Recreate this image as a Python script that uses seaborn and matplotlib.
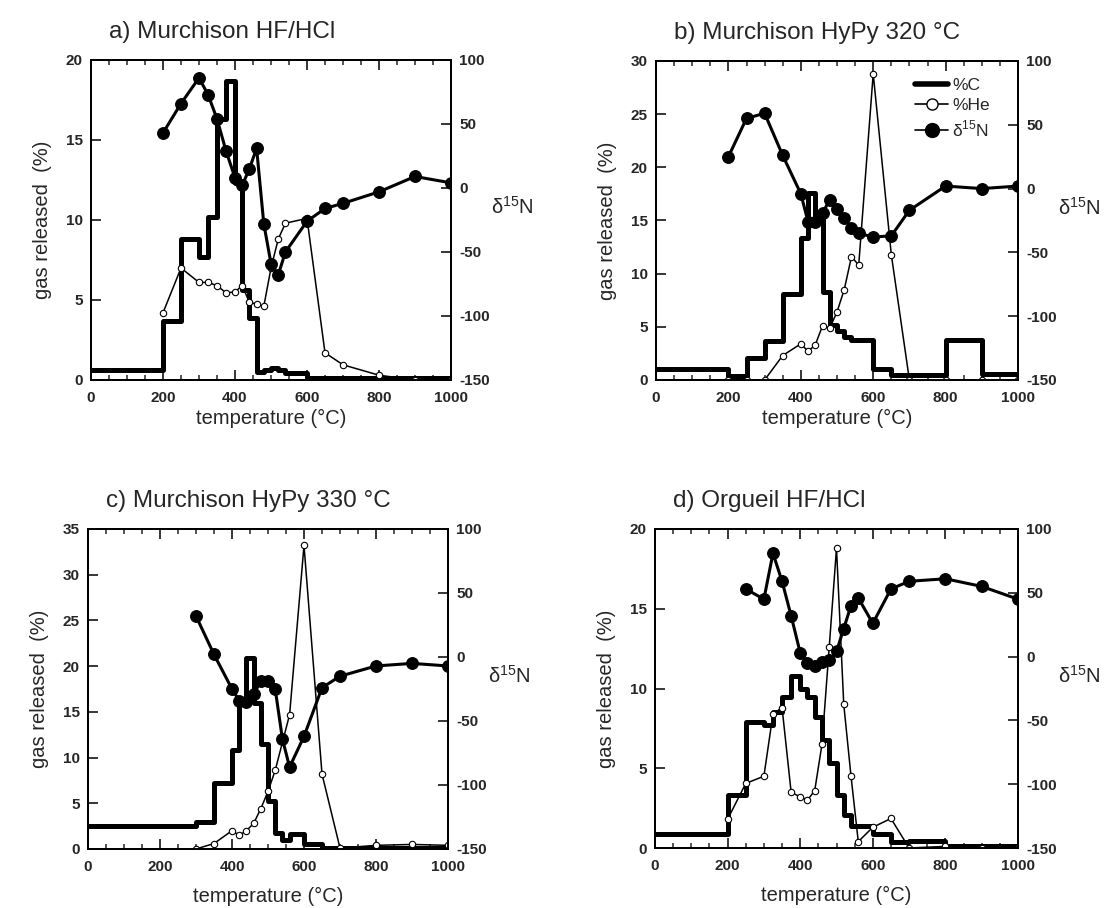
import numpy as np
import pandas as pd
import matplotlib
matplotlib.use("Agg")
import matplotlib.pyplot as plt
from matplotlib.lines import Line2D
import seaborn as sns

sns.set_theme(style="white")
plt.rcParams['font.family'] = ['Liberation Sans', 'DejaVu Sans']
plt.rcParams['mathtext.fontset'] = 'custom'
plt.rcParams['mathtext.rm'] = 'Liberation Sans'
plt.rcParams['axes.unicode_minus'] = False

# ---------------- data ----------------
titles = ["a) Murchison HF/HCl", "b) Murchison HyPy 320 °C",
          "c) Murchison HyPy 330 °C", "d) Orgueil HF/HCl"]
left_max = [20, 30, 35, 20]

# panel a
a_c_edges = [0, 200, 250, 300, 325, 350, 375, 400, 420, 440, 460, 480, 500, 520, 540, 600, 1000]
a_c_vals = [0.6, 3.7, 8.8, 7.7, 10.2, 16.3, 18.7, 12.3, 5.6, 3.9, 0.5, 0.6, 0.75, 0.6, 0.45, 0.15]
a_he_t = [200, 250, 300, 325, 350, 375, 400, 420, 440, 460, 480, 500, 520, 540, 600, 650, 700, 800, 900, 1000]
a_he_v = [4.2, 7.0, 6.1, 6.1, 5.9, 5.45, 5.5, 5.9, 4.85, 4.75, 4.6, 7.0, 8.8, 9.8, 10.1, 1.7, 0.95, 0.3, 0.0, 0.0]
a_n_t = [200, 250, 300, 325, 350, 375, 400, 420, 440, 460, 480, 500, 520, 540, 600, 650, 700, 800, 900, 1000]
a_n_v = [43, 66, 86, 73, 54, 29, 8, 2, 15, 31, -28, -59, -68, -50, -26, -16, -12, -3, 9, 4]

# panel b
b_c_edges = [0, 200, 250, 300, 350, 400, 420, 440, 460, 480, 500, 520, 540, 600, 650, 700, 800, 900, 1000]
b_c_vals = [1.0, 0.4, 2.1, 3.7, 8.1, 13.4, 17.6, 15.4, 8.3, 5.2, 4.6, 4.0, 3.8, 1.0, 0.5, 0.5, 3.8, 0.6]
b_he_t = [200, 250, 300, 350, 400, 420, 440, 460, 480, 500, 520, 540, 560, 600, 650, 700, 800, 900, 1000]
b_he_v = [0, 0, 0, 2.3, 3.4, 2.7, 3.3, 5.1, 4.9, 6.4, 8.5, 11.6, 10.8, 28.8, 11.8, 0, 0, 0, 0]
b_n_t = [200, 250, 300, 350, 400, 420, 440, 460, 480, 500, 520, 540, 560, 600, 650, 700, 800, 900, 1000]
b_n_v = [25, 55, 59, 26, -4, -26, -26, -19, -9, -16, -23, -31, -35, -38, -37, -17, 2, 0, 2]

# panel c
c_c_edges = [0, 300, 350, 400, 420, 440, 460, 480, 500, 520, 540, 560, 600, 650, 1000]
c_c_vals = [2.5, 3.0, 7.2, 10.8, 16.2, 20.9, 16.0, 11.5, 5.2, 1.8, 1.0, 1.6, 0.6, 0.15]
c_he_t = [300, 350, 400, 420, 440, 460, 480, 500, 520, 560, 600, 650, 700, 800, 900, 1000]
c_he_v = [0, 0.6, 2.0, 1.5, 2.0, 2.8, 4.4, 6.3, 8.6, 14.7, 33.2, 8.2, 0.1, 0.4, 0.5, 0.4]
c_n_t = [300, 350, 400, 420, 440, 460, 480, 500, 520, 540, 560, 600, 650, 700, 800, 900, 1000]
c_n_v = [32, 2, -25, -34, -35, -29, -19, -19, -25, -64, -86, -62, -24, -15, -7, -5, -7]

# panel d
d_c_edges = [0, 200, 250, 300, 325, 350, 375, 400, 420, 440, 460, 480, 500, 520, 540, 560, 600, 650, 700, 800, 1000]
d_c_vals = [0.85, 3.3, 7.9, 7.7, 8.55, 9.45, 10.8, 10.0, 9.45, 8.2, 6.8, 5.3, 3.3, 2.1, 1.4, 1.4, 0.85, 0.4, 0.45, 0.1]
d_he_t = [200, 250, 300, 325, 350, 375, 400, 420, 440, 460, 480, 500, 520, 540, 560, 600, 650, 700, 800, 900, 1000]
d_he_v = [1.8, 4.05, 4.5, 8.4, 8.8, 3.5, 3.2, 3.0, 3.6, 6.5, 12.6, 18.8, 9.0, 4.5, 0.4, 1.3, 1.85, 0.0, 0.1, 0.0, 0.0]
d_n_t = [250, 300, 325, 350, 375, 400, 420, 440, 460, 480, 500, 520, 540, 560, 600, 650, 700, 800, 900, 1000]
d_n_v = [53, 45, 81, 59, 32, 3, -5, -7, -4, -3, 4, 22, 40, 46, 26, 53, 59, 61, 55, 45]

panels = [
    (a_c_edges, a_c_vals, a_he_t, a_he_v, a_n_t, a_n_v),
    (b_c_edges, b_c_vals, b_he_t, b_he_v, b_n_t, b_n_v),
    (c_c_edges, c_c_vals, c_he_t, c_he_v, c_n_t, c_n_v),
    (d_c_edges, d_c_vals, d_he_t, d_he_v, d_n_t, d_n_v),
]

# axes rectangles in figure fractions (left, bottom, width, height)
W, H = 1106, 908
rects = [
    (91 / W, 1 - 380 / H, 360 / W, 320 / H),
    (656 / W, 1 - 380 / H, 362 / W, 319 / H),
    (88 / W, 1 - 849 / H, 360 / W, 320 / H),
    (655 / W, 1 - 848 / H, 363 / W, 319 / H),
]
xlabel_pad = [3, 3, 9, 9]

fig = plt.figure(figsize=(W / 100, H / 100), dpi=100)
fig.patch.set_facecolor("white")

for i, (rect, data) in enumerate(zip(rects, panels)):
    c_edges, c_vals, he_t, he_v, n_t, n_v = data
    ax = fig.add_axes(rect)
    ax2 = ax.twinx()

    df_c = pd.DataFrame({"T": c_edges, "v": list(c_vals) + [c_vals[-1]]})
    df_he = pd.DataFrame({"T": he_t, "v": he_v})
    df_n = pd.DataFrame({"T": n_t, "v": n_v})

    sns.lineplot(data=df_c, x="T", y="v", ax=ax, color="black", lw=3.6,
                 drawstyle="steps-post", estimator=None, sort=False, zorder=3)
    sns.lineplot(data=df_he, x="T", y="v", ax=ax, color="black", lw=1.1,
                 marker="o", markersize=4.6, markerfacecolor="white",
                 markeredgecolor="black", markeredgewidth=0.8,
                 estimator=None, sort=False, zorder=4)
    sns.lineplot(data=df_n, x="T", y="v", ax=ax2, color="black", lw=2.2,
                 marker="o", markersize=8.5, markerfacecolor="black",
                 markeredgecolor="black", estimator=None, sort=False, zorder=5)

    ax.set_xlim(0, 1000)
    ax.set_ylim(0, left_max[i])
    ax2.set_ylim(-150, 100)
    ax.set_xticks(np.arange(0, 1001, 200))
    ax.set_xticks(np.arange(0, 1001, 50), minor=True)
    ax.set_yticks(np.arange(0, left_max[i] + 1, 5))
    ax2.set_yticks(np.arange(-150, 101, 50))

    ax.tick_params(axis="x", which="major", direction="in", length=7, width=1.3,
                   top=True, bottom=True, pad=8)
    ax.tick_params(axis="x", which="minor", direction="in", length=3.5, width=1.1,
                   top=True, bottom=True)
    ax.tick_params(axis="y", which="major", direction="in", length=7, width=1.3,
                   left=True, right=False, pad=6)
    ax2.tick_params(axis="y", which="major", direction="in", length=7, width=1.3,
                    right=True, left=False, pad=6)
    for lab in ax.get_xticklabels() + ax.get_yticklabels() + ax2.get_yticklabels():
        lab.set_fontsize(11)
        lab.set_fontweight("bold")

    for sp in list(ax.spines.values()) + list(ax2.spines.values()):
        sp.set_linewidth(1.4)
        sp.set_color("black")

    ax.set_xlabel("temperature (°C)", fontsize=14.5, labelpad=xlabel_pad[i])
    ax.set_ylabel("gas released  (%)", fontsize=14.5, labelpad=10)
    ax2.set_ylabel("δ$^{15}$N", fontsize=14.5, rotation=0, va="center", ha="left")
    ax2.yaxis.set_label_coords(1.11, 0.54)
    ax.set_title(titles[i], fontsize=17.5, loc="left", x=0.05, pad=16)

    if i == 1:
        handles = [
            Line2D([], [], color="black", lw=4),
            Line2D([], [], color="black", lw=1.2, marker="o", markersize=8,
                   markerfacecolor="white", markeredgecolor="black"),
            Line2D([], [], color="black", lw=1.2, marker="o", markersize=10,
                   markerfacecolor="black"),
        ]
        ax2.legend(handles, ["%C", "%He", "δ$^{15}$N"], loc="upper right",
                   bbox_to_anchor=(0.955, 0.985), frameon=False, fontsize=12.5,
                   handlelength=1.9, handletextpad=0.2, labelspacing=0.3,
                   borderaxespad=0.3)
    else:
        if ax2.get_legend():
            ax2.get_legend().remove()
    if ax.get_legend():
        ax.get_legend().remove()

fig.savefig("out.png", dpi=100, facecolor="white")
